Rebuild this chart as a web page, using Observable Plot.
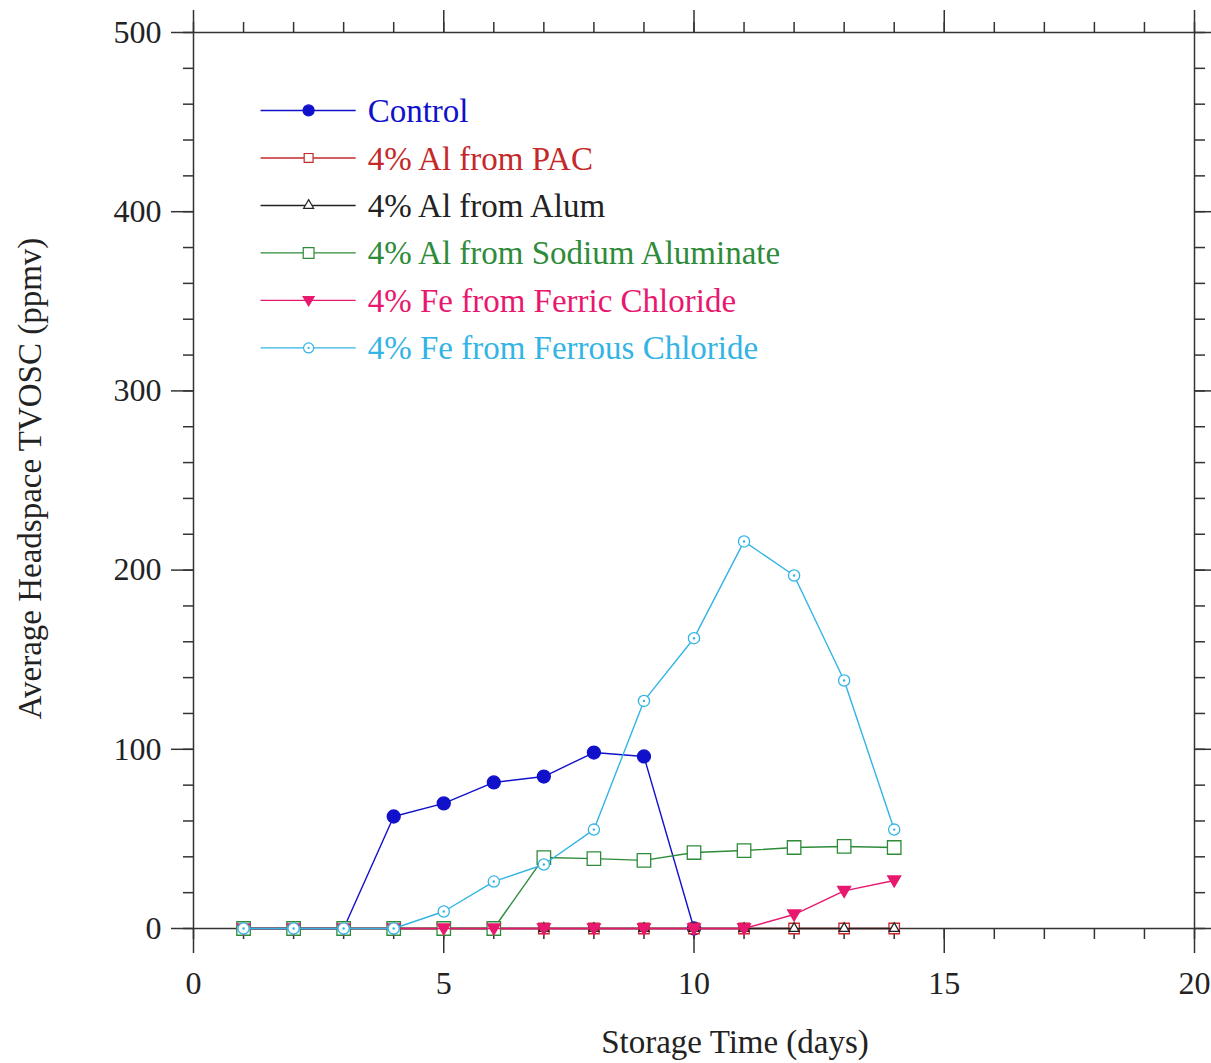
<!DOCTYPE html>
<html>
<head>
<meta charset="utf-8">
<script src="https://cdn.jsdelivr.net/npm/d3@7"></script>
<script src="https://cdn.jsdelivr.net/npm/@observablehq/plot@0.6"></script>
<style>
  html, body { margin: 0; padding: 0; background: #fff; }
  #chart svg { display: block; }
  #chart svg text { font-family: 'Liberation Serif', 'Times New Roman', serif; }
</style>
</head>
<body>
<div id="chart"></div>
<script>
// ---- data ----
const days        = [1, 2, 3, 4, 5, 6, 7, 8, 9, 10, 11, 12, 13, 14];
const controlDays = [1, 2, 3, 4, 5, 6, 7, 8, 9, 10];
const control     = [0, 0, 0, 62.5, 69.8, 81.5, 84.8, 98.2, 96, 0];
const alPAC       = [0, 0, 0, 0, 0, 0, 0, 0, 0, 0, 0, 0, 0, 0];
const alAlum      = [0, 0, 0, 0, 0, 0, 0, 0, 0, 0, 0, 0, 0, 0];
const alSodium    = [0, 0, 0, 0, 0, 0, 39.6, 39, 38, 42.4, 43.5, 45.2, 45.8, 45.2];
const feFerric    = [0, 0, 0, 0, 0, 0, 0, 0, 0, 0, 0, 7.8, 21, 26.8];
const feFerrous   = [0, 0, 0, 0, 9.5, 26.2, 35.7, 55.2, 127, 162, 216, 197, 138.4, 55.2];

const seriesNames = ["Control", "4% Al from PAC", "4% Al from Alum",
  "4% Al from Sodium Aluminate", "4% Fe from Ferric Chloride", "4% Fe from Ferrous Chloride"];
const seriesColors = ["#1111cc", "#c42828", "#222222", "#2e8b3a", "#e8186e", "#33b4e4"];

const xTicksMajor = [0, 5, 10, 15, 20];
const yTicksMajor = [0, 100, 200, 300, 400, 500];
const xTicksMinor = d3.range(0, 21, 1);
const yTicksMinor = d3.range(0, 501, 20);

// ---- build tables ----
const seriesX = [controlDays, days, days, days, days, days];
const seriesY = [control, alPAC, alAlum, alSodium, feFerric, feFerrous];
const rows = seriesNames.map((name, i) => seriesX[i].map((d, j) => ({series: name, day: d, value: seriesY[i][j]})));

const triangleDown = {
  draw(ctx, size) {
    const t = Math.sqrt(size) * 0.6;
    ctx.moveTo(-t, -t * 0.7);
    ctx.lineTo(t, -t * 0.7);
    ctx.lineTo(0, t);
    ctx.closePath();
  }
};

const FONT = "'Liberation Serif', 'Times New Roman', serif";

const markerStyle = [
  {symbol: "circle", r: 6.5, fill: seriesColors[0], stroke: seriesColors[0]},
  {symbol: "square", r: 5.9, fill: "white", stroke: seriesColors[1]},
  {symbol: "triangle", r: 3.7, fill: "white", stroke: seriesColors[2]},
  {symbol: "square", r: 7.6, fill: "white", stroke: seriesColors[3]},
  {symbol: triangleDown, r: 6.1, fill: seriesColors[4], stroke: seriesColors[4]},
  {symbol: "circle", r: 5.6, fill: "white", stroke: seriesColors[5]}
];
const legendScale = [0.85, 0.85, 1.0, 0.8, 0.85, 0.9];

// legend layout (data coordinates inside the frame)
const legX1 = 1.35, legX2 = 3.25, legMark = 2.3, legText = 3.48;
const legendRows = seriesNames.map((name, i) => ({series: name, i, y: 456.5 - i * 26.5}));

const marks = [];
seriesNames.forEach((name, i) => {
  marks.push(Plot.line(rows[i], {x: "day", y: "value", stroke: seriesColors[i], strokeWidth: 1.4}));
  marks.push(Plot.dot(rows[i], {x: "day", y: "value", ...markerStyle[i], strokeWidth: 1.3}));
  if (i === 5) marks.push(Plot.dot(rows[i], {x: "day", y: "value", r: 1.2, fill: seriesColors[i]}));
  // legend entry
  const lr = [legendRows[i]];
  marks.push(Plot.ruleY(lr, {x1: () => legX1, x2: () => legX2, y: "y", stroke: seriesColors[i], strokeWidth: 1.4}));
  marks.push(Plot.dot(lr, {x: () => legMark, y: "y", ...markerStyle[i], r: markerStyle[i].r * legendScale[i], strokeWidth: 1.2}));
  if (i === 5) marks.push(Plot.dot(lr, {x: () => legMark, y: "y", r: 1.1, fill: seriesColors[i]}));
  marks.push(Plot.text(lr, {x: () => legText, y: "y", text: "series", fill: seriesColors[i], textAnchor: "start", fontSize: 33, fontFamily: FONT, dy: 1}));
});

const axisStyle = {stroke: "#333", strokeWidth: 1.5};
const blank = () => "";

const chart = Plot.plot({
  width: 1211,
  height: 1063,
  marginLeft: 193,
  marginRight: 17,
  marginTop: 32,
  marginBottom: 135,
  style: {fontFamily: FONT, fontSize: "32px", color: "#222", background: "white"},
  x: {domain: [0, 20]},
  y: {domain: [0, 500]},
  marks: [
    // bottom axis
    Plot.axisX({anchor: "bottom", ticks: xTicksMinor, tickSize: 11, tickFormat: blank, label: null, ...axisStyle}),
    Plot.axisX({anchor: "bottom", ticks: xTicksMajor, tickSize: 25, tickPadding: 18, tickFormat: d3.format("d"), label: null, fontSize: 32, fontFamily: FONT, ...axisStyle}),
    // top axis
    Plot.axisX({anchor: "top", ticks: xTicksMinor, tickSize: 11, tickFormat: blank, label: null, ...axisStyle}),
    Plot.axisX({anchor: "top", ticks: xTicksMajor, tickSize: 23, tickFormat: blank, label: null, ...axisStyle}),
    // left axis
    Plot.axisY({anchor: "left", ticks: yTicksMinor, tickSize: 10, tickFormat: blank, label: null, ...axisStyle}),
    Plot.axisY({anchor: "left", ticks: yTicksMajor, tickSize: 22, tickPadding: 10, tickFormat: d3.format("d"), label: null, fontSize: 32, fontFamily: FONT, ...axisStyle}),
    // right axis
    Plot.axisY({anchor: "right", ticks: yTicksMinor, tickSize: 10, tickFormat: blank, label: null, ...axisStyle}),
    Plot.axisY({anchor: "right", ticks: yTicksMajor, tickSize: 22, tickFormat: blank, label: null, ...axisStyle}),
    Plot.frame({stroke: "#333", strokeWidth: 1.5}),
    // axis titles
    Plot.text(["Storage Time (days)"], {frameAnchor: "bottom", text: d => d, dx: 41, dy: 124, fontSize: 33, fontFamily: FONT, fill: "#222"}),
    Plot.text(["Average Headspace TVOSC (ppmv)"], {frameAnchor: "left", text: d => d, rotate: -90, textAnchor: "middle", dx: -163, dy: -2, fontSize: 33, fontFamily: FONT, fill: "#222"}),
    ...marks
  ]
});

document.getElementById("chart").appendChild(chart);
</script>
</body>
</html>
